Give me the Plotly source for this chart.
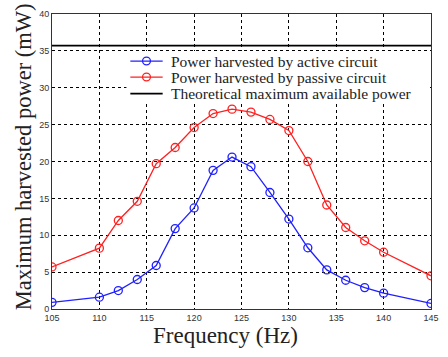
import plotly.graph_objects as go

freq = [105, 110, 112, 114, 116, 118, 120, 122, 124, 126, 128, 130, 132, 134, 136, 138, 140, 145]
active = [0.9, 1.6, 2.5, 4.0, 5.9, 10.9, 13.7, 18.8, 20.6, 19.3, 15.8, 12.2, 8.3, 5.3, 3.9, 2.9, 2.15, 0.75]
passive = [5.7, 8.25, 12.0, 14.6, 19.7, 21.9, 24.6, 26.5, 27.1, 26.7, 25.7, 24.2, 20.0, 14.1, 11.05, 9.25, 7.7, 4.5]
theory_x = [105, 145]
theory_y = [35.7, 35.7]

names = ["Power harvested by active circuit",
         "Power harvested by passive circuit",
         "Theoretical maximum available power"]
colors = ["#2020ff", "#ff2020", "#000000"]

x_ticks = [105, 110, 115, 120, 125, 130, 135, 140, 145]
y_ticks = [0, 5, 10, 15, 20, 25, 30, 35, 40]

serif = "Liberation Serif, Times New Roman, serif"

W, H = 448, 357
ML, MR, MT, MB = 52, 9, 11, 42
PW, PH = W - ML - MR, H - MT - MB


def px(x):
    return (x - ML) / PW


def py(y):
    return (H - MB - y) / PH


fig = go.Figure()
fig.add_trace(go.Scatter(x=freq, y=active, mode="lines+markers", name=names[0],
                         line=dict(color=colors[0], width=1.3),
                         marker=dict(symbol="circle-open", size=8, color=colors[0], line=dict(width=1.3))))
fig.add_trace(go.Scatter(x=freq, y=passive, mode="lines+markers", name=names[1],
                         line=dict(color=colors[1], width=1.3),
                         marker=dict(symbol="circle-open", size=8, color=colors[1], line=dict(width=1.3))))
fig.add_trace(go.Scatter(x=theory_x, y=theory_y, mode="lines", name=names[2],
                         line=dict(color=colors[2], width=1.8)))

# custom legend (layout only)
shapes = [dict(type="rect", xref="paper", yref="paper", layer="above",
               x0=px(128), x1=px(438), y0=py(101), y1=py(49),
               fillcolor="white", line=dict(width=0))]
annotations = []
rows = [59.5, 76, 93]
for i, (nm, c) in enumerate(zip(names, colors)):
    yy = rows[i]
    shapes.append(dict(type="line", xref="paper", yref="paper", layer="above",
                       x0=px(132), x1=px(165), y0=py(yy), y1=py(yy),
                       line=dict(color=c, width=1.8 if i == 2 else 1.3)))
    if i < 2:
        shapes.append(dict(type="circle", xref="paper", yref="paper", layer="above",
                           x0=px(148.5 - 4), x1=px(148.5 + 4), y0=py(yy + 4), y1=py(yy - 4),
                           line=dict(color=c, width=1.3), fillcolor="rgba(0,0,0,0)"))
    annotations.append(dict(text=nm, xref="paper", yref="paper", x=px(171), y=py(yy),
                            xanchor="left", yanchor="middle", showarrow=False,
                            font=dict(family=serif, size=15.5, color="#222222")))

annotations += [
    dict(text="Frequency (Hz)", xref="paper", yref="paper", x=0.459, y=-0.089,
         xanchor="center", yanchor="middle", showarrow=False,
         font=dict(family=serif, size=23, color="#222222")),
    dict(text="Maximum harvested power (mW)", xref="paper", yref="paper", x=px(23), y=py(158),
         xanchor="center", yanchor="middle", showarrow=False, textangle=-90,
         font=dict(family=serif, size=22.5, color="#222222")),
]

axis_common = dict(showline=True, linecolor="#333333", linewidth=1, mirror=True,
                   showgrid=True, gridcolor="#000000", griddash="dot", gridwidth=1,
                   ticks="",
                   tickfont=dict(family="Liberation Sans, Arial", size=9, color="#333333"),
                   zeroline=False)

fig.update_layout(
    width=W, height=H,
    margin=dict(l=ML, r=MR, t=MT, b=MB),
    paper_bgcolor="white", plot_bgcolor="white",
    showlegend=False,
    xaxis=dict(range=[105, 145], tickvals=x_ticks, title=dict(text=""), **axis_common),
    yaxis=dict(range=[0, 40], tickvals=y_ticks, title=dict(text=""), **axis_common),
    shapes=shapes,
    annotations=annotations,
)

fig.write_html("out.html")
